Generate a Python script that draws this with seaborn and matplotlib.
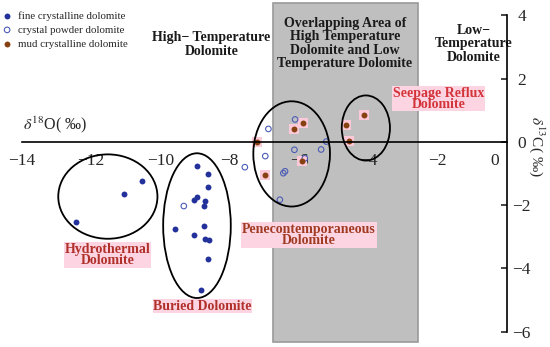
import numpy as np
import pandas as pd
import matplotlib
matplotlib.use("Agg")
import matplotlib.pyplot as plt
import matplotlib.transforms as mtransforms
from matplotlib.patches import Ellipse
import seaborn as sns

# data
fine_x = [-10.53, -11.03, -12.44, -8.93, -8.63, -8.63, -8.94, -9.03, -8.72, -8.73,
          -9.56, -8.73, -9.04, -8.72, -8.60, -8.62, -8.82]
fine_y = [-1.24, -1.64, -2.55, -0.76, -1.03, -1.44, -1.74, -1.83, -1.86, -2.04,
          -2.77, -2.67, -2.96, -3.07, -3.09, -3.69, -4.69]
powder_x = [-9.32, -7.56, -6.88, -6.97, -6.11, -5.21, -6.13, -5.36, -5.83, -6.45,
            -6.40, -6.55]
powder_y = [-2.03, -0.80, 0.41, -0.45, 0.71, 0.01, -0.25, -0.24, -0.52, -0.99,
            -0.93, -1.83]
mud_x = [-7.22, -6.97, -5.87, -6.13, -5.92, -4.64, -4.56, -4.12]
mud_y = [0.01, -1.04, 0.59, 0.41, -0.59, 0.52, 0.04, 0.86]

x_ticks = [-14, -12, -10, -8, -6, -4, -2, 0]
y_ticks = [-6, -4, -2, 0, 2, 4]

fine = pd.DataFrame({"x": fine_x, "y": fine_y})
powder = pd.DataFrame({"x": powder_x, "y": powder_y})
mud = pd.DataFrame({"x": mud_x, "y": mud_y})

sns.set_style("white")
plt.rcParams["font.family"] = ["Liberation Serif", "DejaVu Serif"]
plt.rcParams["mathtext.fontset"] = "stix"

fig = plt.figure(figsize=(5.5, 3.47), dpi=100)
ax = fig.add_axes([0, 0, 1, 1])
ax.set_xlim(-14.62, 1.24)
ax.set_ylim(-6.49, 4.49)

# overlapping area band
ax.axvspan(-6.75, -2.58, ymin=0.015, ymax=0.99, facecolor="#bfbfbf",
           edgecolor="#9a9a9a", linewidth=1.2, zorder=0)

# points
sns.scatterplot(data=mud, x="x", y="y", marker="s", s=55, color="#fbc9d8",
                linewidth=0, ax=ax, zorder=2, legend=False)
sns.scatterplot(data=fine, x="x", y="y", s=18, color="#23329a", linewidth=0,
                ax=ax, zorder=3, label="fine crystalline dolomite")
sns.scatterplot(data=powder, x="x", y="y", s=16, facecolor="none",
                edgecolor="#4b5cb5", linewidth=0.8, ax=ax, zorder=3,
                label="crystal powder dolomite")
sns.scatterplot(data=mud, x="x", y="y", s=18, color="#87400f", linewidth=0,
                ax=ax, zorder=3, label="mud crystalline dolomite")

# circled groups
for cx, cy, w, h in [(-11.51, -1.73, 2.86, 2.67), (-8.94, -2.65, 1.95, 4.58),
                     (-6.21, -0.38, 2.21, 3.33), (-4.07, 0.44, 1.39, 2.06)]:
    ax.add_patch(Ellipse((cx, cy), w, h, fill=False, edgecolor="black",
                         linewidth=1.3, zorder=4))

# axes through the origin
for s in ["top", "left"]:
    ax.spines[s].set_visible(False)
ax.spines["bottom"].set_position(("data", 0))
ax.spines["right"].set_position(("data", 0))
ax.spines["bottom"].set_bounds(-14, 0)
ax.spines["right"].set_bounds(-6, 4)
for s in ["bottom", "right"]:
    ax.spines[s].set_linewidth(1.2)
    ax.spines[s].set_color("black")
    ax.spines[s].set_zorder(5)

ax.yaxis.tick_right()
ax.set_xticks(x_ticks)
ax.set_yticks(y_ticks)
ax.set_xticklabels([str(t).replace("-", "\u2212") for t in x_ticks])
ax.set_yticklabels([str(t).replace("-", "\u2212") for t in y_ticks])
ax.tick_params(axis="x", direction="in", length=4, width=1.2, pad=8, labelsize=12.5)
ax.tick_params(axis="y", direction="in", length=4, width=1.2, pad=10.5, labelsize=12.5)
for lab in ax.get_yticklabels():
    lab.set_ha("center")
offset = mtransforms.ScaledTranslation(-12 / 100, 0, fig.dpi_scale_trans)
xl = ax.get_xticklabels()[-1]
xl.set_transform(xl.get_transform() + offset)
ax.set_xlabel("")
ax.set_ylabel("")

ax.text(-13.96, 0.39, r"$\delta^{18}$O( ‰)", fontsize=11.5, ha="left", va="baseline")
ax.text(0.86, -0.15, r"$\delta^{13}$C( ‰)", fontsize=11, rotation=-90,
        ha="center", va="center")

# region titles
bold = dict(fontsize=10, fontweight="bold", ha="center", va="center",
            linespacing=1.05, color="#1a1a1a")
ax.text(-8.52, 3.08, "High\u2212 Temperature\nDolomite", **bold)
ax.text(-4.67, 3.11, "Overlapping Area of\nHigh Temperature\nDolomite and Low\nTemperature Dolomite", **bold)
ax.text(-0.97, 3.11, "Low\u2212\nTemperature\nDolomite", **bold)

# group labels
box = dict(boxstyle="square,pad=0.05", facecolor="#fdd5e2", edgecolor="none")
red = dict(fontsize=10, fontweight="bold", ha="center", va="center",
           linespacing=0.82, bbox=box, zorder=6)
ax.text(-1.98, 1.37, "Seepage Reflux\nDolomite", color="#d3343a", **red)
ax.text(-11.51, -3.58, "Hydrothermal\nDolomite", color="#b0302a", **red)
ax.text(-8.78, -5.2, "Buried Dolomite", color="#b0302a", **red)
ax.text(-5.71, -2.94, "Penecontemporaneous\nDolomite", color="#a03a22", **red)

ax.legend(loc="upper left", bbox_to_anchor=(0.008, 0.968), frameon=False,
          fontsize=7.8, handlelength=0.5, handletextpad=0.75, labelspacing=0.4,
          borderpad=0, borderaxespad=0)

fig.savefig("out.png", dpi=100)
